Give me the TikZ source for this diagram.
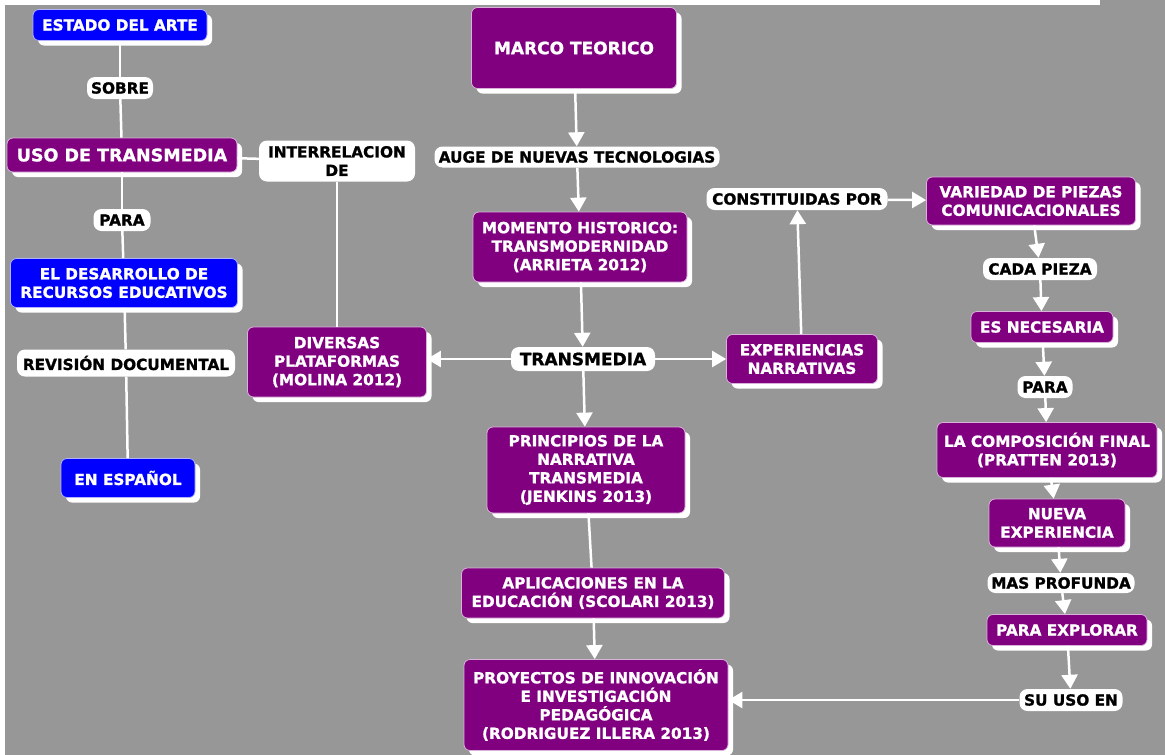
\documentclass[tikz,border=0pt]{standalone}
\usepackage{fontspec}
\setmainfont{DejaVu Sans}[BoldFeatures={FakeBold=1.2}]
\usetikzlibrary{arrows.meta,shadows}
\definecolor{bg}{HTML}{979797}
\definecolor{mpurple}{HTML}{800080}
\definecolor{mblue}{HTML}{0000FF}
\begin{document}
\begin{tikzpicture}[x=1pt,y=-1pt,
  every node/.style={font=\bfseries\fontsize{15.3}{18.5}\selectfont, align=center, inner sep=2pt},
  box/.style={rounded corners=6pt, line width=0.8pt, text=white,
    drop shadow={fill=white, opacity=1, shadow xshift=5pt, shadow yshift=-5pt}},
  pbox/.style={box, fill=mpurple, draw=white!70!mpurple},
  bbox/.style={box, fill=mblue, draw=white!70!mblue},
  lbl/.style={rounded corners=8pt, fill=white, text=black},
  big/.style={font=\bfseries\fontsize{17.5}{21}\selectfont},
  sz/.style 2 args={minimum width=#1, minimum height=#2},
  link/.style={draw=white, line width=2.5pt},
  arr/.style={link, -{Triangle[width=16pt,length=14pt]}}
]
% canvas
\useasboundingbox (0,0) rectangle (1165,755);
\fill[bg] (0,0) rectangle (1165,755);
\fill[white] (0,0) rectangle (5,755);
\fill[white] (0,0) rectangle (1100,5);

% left column
\node[bbox, sz={174pt}{31pt}] (estado) at (120,25) {ESTADO DEL ARTE};
\node[lbl, sz={66pt}{22pt}] (sobre) at (120,88) {SOBRE};
\node[pbox, big, sz={230pt}{34pt}] (uso) at (122,155) {USO DE TRANSMEDIA};
\node[lbl, sz={156pt}{41pt}] (inter) at (337,161) {INTERRELACION\\DE};
\node[lbl, sz={57pt}{22pt}] (para1) at (122,220) {PARA};
\node[bbox, sz={227pt}{49pt}] (desarr) at (124,283) {EL DESARROLLO DE\\RECURSOS EDUCATIVOS};
\node[lbl, sz={218pt}{27pt}] (revision) at (126,363) {REVISIÓN DOCUMENTAL};
\node[bbox, sz={134pt}{39pt}] (espanol) at (128,478) {EN ESPAÑOL};
\node[pbox, sz={179pt}{70pt}] (divers) at (337,362) {DIVERSAS\\PLATAFORMAS\\(MOLINA 2012)};

% centre column
\node[pbox, font=\bfseries\fontsize{17}{20}\selectfont, sz={205pt}{81pt}] (marco) at (574,48) {MARCO TEORICO};
\node[lbl, sz={285pt}{21pt}] (auge) at (577,157) {AUGE DE NUEVAS TECNOLOGIAS};
\node[pbox, sz={214pt}{70pt}] (momento) at (580,247) {MOMENTO HISTORICO:\\TRANSMODERNIDAD\\(ARRIETA 2012)};
\node[lbl, font=\bfseries\fontsize{17}{20}\selectfont, sz={144pt}{24pt}] (trans) at (583,359) {TRANSMEDIA};
\node[pbox, sz={198pt}{86pt}] (princ) at (586,470) {PRINCIPIOS DE LA\\NARRATIVA\\TRANSMEDIA\\(JENKINS 2013)};
\node[pbox, sz={263pt}{50pt}] (aplic) at (593,593) {APLICACIONES EN LA\\EDUCACIÓN (SCOLARI 2013)};
\node[pbox, sz={264pt}{91pt}] (proy) at (596,705) {PROYECTOS DE INNOVACIÓN\\E INVESTIGACIÓN\\PEDAGÓGICA\\(RODRIGUEZ ILLERA 2013)};

% right part
\node[pbox, sz={151pt}{49pt}] (exper) at (802,359) {EXPERIENCIAS\\NARRATIVAS};
\node[lbl, sz={181pt}{22pt}] (constit) at (797,199) {CONSTITUIDAS POR};
\node[pbox, sz={209pt}{48pt}] (varied) at (1031,201) {VARIEDAD DE PIEZAS\\COMUNICACIONALES};
\node[lbl, sz={114pt}{22pt}] (cada) at (1040,269) {CADA PIEZA};
\node[pbox, sz={142pt}{31pt}] (necesaria) at (1042,327) {ES NECESARIA};
\node[lbl, sz={55pt}{22pt}] (para2) at (1045,387) {PARA};
\node[pbox, sz={220pt}{55pt}] (compos) at (1047,450) {LA COMPOSICIÓN FINAL\\(PRATTEN 2013)};
\node[pbox, sz={136pt}{48pt}] (nueva) at (1057,523) {NUEVA\\EXPERIENCIA};
\node[lbl, sz={147pt}{20pt}] (profunda) at (1061,583) {MAS PROFUNDA};
\node[pbox, sz={160pt}{31pt}] (explorar) at (1067,630) {PARA EXPLORAR};
\node[lbl, sz={103pt}{22pt}] (suuso) at (1071,700) {SU USO EN};

% plain links
\draw[link] (estado) -- (sobre);
\draw[link] (sobre) -- (uso);
\draw[link] (uso) -- (para1);
\draw[link] (para1) -- (desarr);
\draw[link] (desarr) -- (revision);
\draw[link] (revision) -- (espanol);
\draw[link] (uso) -- (inter);
\draw[link] (inter) -- (divers);
\draw[link] (princ) -- (aplic);

% arrows
\draw[arr] (marco) -- (auge);
\draw[arr] (auge) -- (momento);
\draw[arr] (momento) -- (trans);
\draw[arr] (trans) -- (trans -| divers.east);
\draw[arr] (trans) -- (exper);
\draw[arr] (trans) -- (princ);
\draw[arr] (aplic) -- (proy);
\draw[arr] (exper) -- (constit);
\draw[arr] (constit) -- (varied);
\draw[arr] (varied) -- (cada);
\draw[arr] (cada) -- (necesaria);
\draw[arr] (necesaria) -- (para2);
\draw[arr] (para2) -- (compos);
\draw[arr] (compos) -- (nueva);
\draw[arr] (nueva) -- (profunda);
\draw[arr] (profunda) -- (explorar);
\draw[arr] (explorar) -- (suuso);
\draw[arr] (suuso) -- (suuso -| proy.east);
\end{tikzpicture}
\end{document}
